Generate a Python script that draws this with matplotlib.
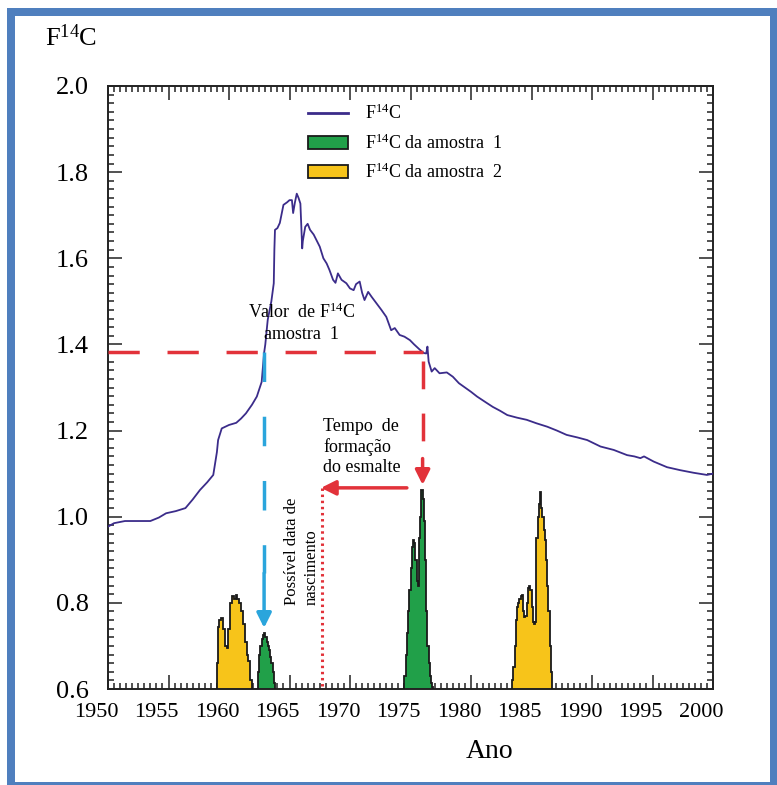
import matplotlib
matplotlib.use("Agg")
import matplotlib.pyplot as plt
import numpy as np
from matplotlib.lines import Line2D
from matplotlib.patches import Patch, Rectangle
from matplotlib.ticker import MultipleLocator
from matplotlib.transforms import ScaledTranslation

plt.rcParams['font.family'] = ['Liberation Serif', 'DejaVu Serif']
plt.rcParams['mathtext.fontset'] = 'custom'
plt.rcParams['mathtext.rm'] = 'Liberation Serif'
plt.rcParams['mathtext.it'] = 'Liberation Serif:italic'
plt.rcParams['mathtext.bf'] = 'Liberation Serif:bold'

# ---------------- data ----------------
curve_years = [1950.0, 1950.5, 1951.4, 1952.5, 1953.5, 1954.2, 1954.8, 1955.6, 1956.4, 1957.0,
               1957.6, 1958.2, 1958.7, 1959.0, 1959.1, 1959.4, 1960.0, 1960.6, 1961.0, 1961.4,
               1961.9, 1962.3, 1962.7, 1962.9, 1963.0, 1963.2, 1963.5, 1963.7, 1963.75, 1963.8,
               1964.0, 1964.2, 1964.4, 1964.5, 1964.8, 1965.0, 1965.2, 1965.3, 1965.45, 1965.6,
               1965.75, 1965.9, 1966.05, 1966.1, 1966.3, 1966.5, 1966.7, 1967.0, 1967.5, 1967.8,
               1968.07, 1968.3, 1968.6, 1968.8, 1969.0, 1969.3, 1969.7, 1970.0, 1970.3, 1970.5,
               1970.8, 1971.0, 1971.2, 1971.5, 1971.8, 1972.2, 1972.6, 1973.0, 1973.4, 1973.7,
               1974.1, 1974.5, 1974.95, 1975.3, 1975.8, 1976.1, 1976.3, 1976.4, 1976.5, 1976.75,
               1977.0, 1977.4, 1978.0, 1978.5, 1979.0, 1979.4, 1980.0, 1980.5, 1981.2, 1981.8,
               1982.4, 1983.0, 1983.8, 1984.6, 1985.4, 1986.3, 1987.1, 1987.9, 1988.8, 1989.6,
               1990.7, 1991.8, 1992.9, 1993.5, 1994.0, 1994.3, 1995.1, 1996.2, 1997.3, 1998.4,
               1999.5, 2000.0]
curve_f14c = [0.977, 0.985, 0.99, 0.99, 0.99, 0.998, 1.008, 1.013, 1.02, 1.04,
              1.062, 1.08, 1.097, 1.15, 1.178, 1.205, 1.213, 1.218, 1.228, 1.24,
              1.26, 1.279, 1.313, 1.38, 1.40, 1.457, 1.50, 1.542, 1.62, 1.666,
              1.67, 1.682, 1.71, 1.724, 1.73, 1.735, 1.735, 1.705, 1.73, 1.75,
              1.74, 1.727, 1.623, 1.64, 1.673, 1.68, 1.666, 1.655, 1.627, 1.60,
              1.588, 1.573, 1.55, 1.543, 1.565, 1.55, 1.542, 1.53, 1.526, 1.54,
              1.546, 1.52, 1.503, 1.522, 1.51, 1.495, 1.48, 1.464, 1.433, 1.438,
              1.422, 1.418, 1.41, 1.40, 1.387, 1.38, 1.379, 1.395, 1.36, 1.337,
              1.345, 1.333, 1.335, 1.325, 1.31, 1.302, 1.29, 1.279, 1.266, 1.255,
              1.246, 1.236, 1.23, 1.225, 1.217, 1.209, 1.20, 1.19, 1.184, 1.178,
              1.163, 1.155, 1.143, 1.14, 1.136, 1.14, 1.128, 1.115, 1.108, 1.102,
              1.097, 1.10]

# sample 2, first cluster (yellow)
s2a_edges = [1959.0, 1959.1, 1959.2, 1959.35, 1959.5, 1959.65, 1959.8, 1959.95, 1960.1, 1960.25,
             1960.4, 1960.55, 1960.7, 1960.85, 1961.0, 1961.15, 1961.3, 1961.45, 1961.6, 1961.75, 1961.9]
s2a_vals = [0.66, 0.745, 0.76, 0.766, 0.74, 0.70, 0.695, 0.74, 0.80, 0.815,
            0.81, 0.818, 0.81, 0.80, 0.78, 0.75, 0.71, 0.68, 0.665, 0.62]
# sample 1, first cluster (green)
s1a_edges = [1962.4, 1962.5, 1962.6, 1962.7, 1962.8, 1962.9, 1963.0, 1963.1, 1963.2, 1963.3,
             1963.4, 1963.5, 1963.6, 1963.7, 1963.8]
s1a_vals = [0.64, 0.68, 0.70, 0.715, 0.725, 0.73, 0.72, 0.71, 0.70, 0.69, 0.675, 0.66, 0.64, 0.615]
# sample 1, second cluster (green)
s1b_edges = [1974.5, 1974.6, 1974.7, 1974.8, 1974.9, 1975.0, 1975.1, 1975.2, 1975.3, 1975.4,
             1975.5, 1975.6, 1975.7, 1975.8, 1975.9, 1976.0, 1976.1, 1976.2, 1976.3, 1976.4,
             1976.5, 1976.6, 1976.7, 1976.8, 1976.9]
s1b_vals = [0.63, 0.68, 0.73, 0.78, 0.83, 0.88, 0.93, 0.945, 0.94, 0.90,
            0.85, 0.84, 0.95, 1.00, 1.062, 1.04, 0.99, 0.90, 0.78, 0.70,
            0.66, 0.63, 0.615, 0.605]
# sample 2, second cluster (yellow)
s2b_edges = [1983.4, 1983.5, 1983.6, 1983.7, 1983.8, 1983.9, 1984.0, 1984.1, 1984.2, 1984.3,
             1984.4, 1984.5, 1984.6, 1984.7, 1984.8, 1984.9, 1985.0, 1985.1, 1985.2, 1985.3,
             1985.4, 1985.5, 1985.6, 1985.7, 1985.8, 1985.9, 1986.0, 1986.1, 1986.2, 1986.3,
             1986.4, 1986.5, 1986.6, 1986.7]
s2b_vals = [0.62, 0.65, 0.70, 0.76, 0.79, 0.80, 0.81, 0.815, 0.818, 0.78,
            0.768, 0.77, 0.80, 0.835, 0.84, 0.83, 0.79, 0.755, 0.752, 0.755,
            0.95, 1.00, 1.03, 1.058, 1.02, 1.00, 0.97, 0.945, 0.90, 0.84,
            0.78, 0.70, 0.64]

sample_value = 1.382      # F14C of sample 1
match_year_early = 1962.9
match_year_late = 1976.0
arrow_level = 1.067
birth_year = 1967.7

x_ticks = [1950, 1955, 1960, 1965, 1970, 1975, 1980, 1985, 1990, 1995, 2000]
y_ticks = [0.6, 0.8, 1.0, 1.2, 1.4, 1.6, 1.8, 2.0]

# ---------------- colours ----------------
c_line = '#3B2C8A'
c_green = '#21A049'
c_yellow = '#F7C41A'
c_red = '#E2323A'
c_blue = '#2AA5DC'
c_frame = '#4F7FBE'

W, H = 777, 785
fig = plt.figure(figsize=(W / 100, H / 100), dpi=100)
ax = fig.add_axes([108 / W, 1 - 689 / H, (713 - 108) / W, (689 - 86) / H])

# histograms
for edges, vals, col in [(s2a_edges, s2a_vals, c_yellow), (s1a_edges, s1a_vals, c_green),
                         (s1b_edges, s1b_vals, c_green), (s2b_edges, s2b_vals, c_yellow)]:
    ax.stairs(vals, edges, baseline=0.6, fill=True, facecolor=col, edgecolor='none', zorder=2)
    ax.stairs(vals, edges, baseline=0.6, fill=False, color='#1a1a1a', lw=1.3, zorder=3)

# curve
ax.plot(curve_years, curve_f14c, color=c_line, lw=1.3, zorder=4)

# red dashed horizontal
ax.plot([1950, match_year_late], [sample_value, sample_value], color=c_red, lw=2.5,
        dashes=(9, 8), zorder=5, solid_capstyle='butt', dash_capstyle='butt')
# red dashed vertical + arrow head
ax.plot([match_year_late, match_year_late], [sample_value - 0.02, 1.14], color=c_red, lw=2.5,
        dashes=(8, 7), zorder=5, dash_capstyle='butt')
ax.annotate('', xy=(match_year_late, 1.074), xytext=(match_year_late, 1.135),
            arrowprops=dict(arrowstyle='-|>', color=c_red, lw=2.5, mutation_scale=22,
                            shrinkA=0, shrinkB=0), zorder=6)
# red horizontal solid arrow
ax.annotate('', xy=(birth_year - 0.1, arrow_level), xytext=(1974.7, arrow_level),
            arrowprops=dict(arrowstyle='-|>', color=c_red, lw=2.5, mutation_scale=22,
                            shrinkA=0, shrinkB=0), zorder=6)
# red dotted vertical
ax.plot([birth_year, birth_year], [arrow_level, 0.6], color=c_red, lw=2.2, ls=(0, (0.8, 1.2)),
        zorder=5)
# blue dashed vertical + arrow
ax.plot([match_year_early, match_year_early], [sample_value, 0.87], color=c_blue, lw=2.5,
        dashes=(8.5, 10), zorder=5, dash_capstyle='butt')
ax.annotate('', xy=(match_year_early, 0.742), xytext=(match_year_early, 0.869),
            arrowprops=dict(arrowstyle='-|>', color=c_blue, lw=2.5, mutation_scale=22,
                            shrinkA=0, shrinkB=0), zorder=6)

# texts
ax.text(1966.0, 1.475, 'Valor  de F$^{14}$C', fontsize=13, ha='center', va='center', zorder=7)
ax.text(1966.0, 1.422, 'amostra  1', fontsize=13, ha='center', va='center', zorder=7)
ax.text(1967.77, 1.162, 'Tempo  de\nformação\ndo esmalte', fontsize=13, ha='left', va='center',
        linespacing=1.25, zorder=7)
ax.text(1966.0, 0.795, 'Possível data de\nnascimento', fontsize=12, rotation=90, ha='center',
        va='bottom', multialignment='left', linespacing=1.3, zorder=7)

# axes formatting
ax.set_xlim(1950, 2000)
ax.set_ylim(0.6, 2.0)
ax.set_xticks(x_ticks)
ax.set_yticks(y_ticks)
ax.set_yticklabels([f'{v:.1f}' for v in y_ticks])
ax.xaxis.set_minor_locator(MultipleLocator(0.5))
ax.yaxis.set_minor_locator(MultipleLocator(0.02))
ax.tick_params(which='both', direction='in', top=True, right=True, width=1.1, color='#222222')
ax.tick_params(which='major', length=10)
ax.tick_params(which='minor', length=4.5)
ax.tick_params(axis='x', which='major', labelsize=16, pad=10)
ax.tick_params(axis='y', which='major', labelsize=19, pad=14)
for sp in ax.spines.values():
    sp.set_linewidth(1.4)
    sp.set_color('#222222')
offset = ScaledTranslation(-12 / 100, 0, fig.dpi_scale_trans)
for lab in ax.get_xticklabels():
    lab.set_transform(lab.get_transform() + offset)

# axis titles
fig.text(45 / W, 1 - 38 / H, 'F$^{14}$C', fontsize=19, ha='left', va='center')
fig.text(490 / W, 1 - 752 / H, 'Ano', fontsize=20, ha='center', va='center')

# legend
handles = [Line2D([0], [0], color=c_line, lw=2),
           Patch(facecolor=c_green, edgecolor='#1a1a1a', lw=1.3),
           Patch(facecolor=c_yellow, edgecolor='#1a1a1a', lw=1.3)]
labels = ['F$^{14}$C', 'F$^{14}$C da amostra  1', 'F$^{14}$C da amostra  2']
fig.legend(handles, labels, loc='upper left', bbox_to_anchor=(308 / W, 1 - 104 / H),
           bbox_transform=fig.transFigure, frameon=False, fontsize=13, handlelength=2.2,
           handleheight=0.75, handletextpad=0.95, labelspacing=0.55, borderpad=0,
           borderaxespad=0)

# blue frame
fig.patches.append(Rectangle((11 / W, 1 - 786 / H), (774 - 11) / W, (786 - 12) / H,
                             transform=fig.transFigure, fill=False, edgecolor=c_frame,
                             lw=8 * 72 / 100, zorder=10))

fig.savefig('out.png', dpi=100)
